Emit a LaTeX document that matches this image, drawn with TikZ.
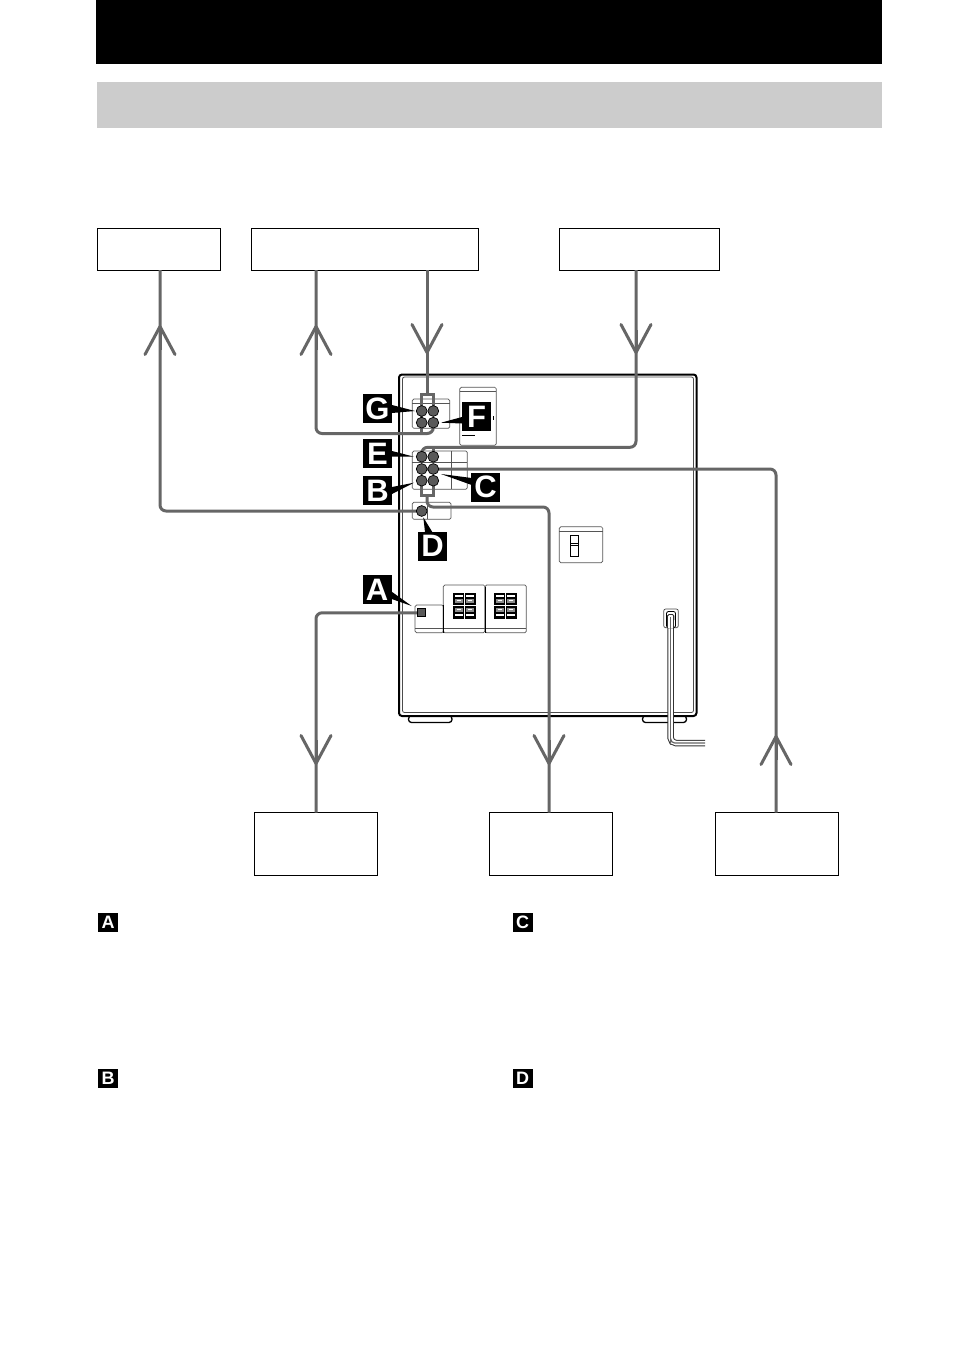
\documentclass[tikz,border=0pt]{standalone}
\usepackage{fontspec}
\setmainfont{Liberation Sans}
\usetikzlibrary{arrows.meta}
\pgfdeclarelayer{fg}
\pgfsetlayers{main,fg}
\definecolor{wirec}{HTML}{666666}
\definecolor{jackc}{HTML}{595959}
\definecolor{panelc}{HTML}{555555}
\tikzset{
  every picture/.style={x=1pt,y=-1pt},
  wire/.style={draw=wirec,line width=3pt,rounded corners=6pt},
  tipw/.style={draw=wirec,line width=3pt,-{Straight Barb[length=28pt,width=30pt,round]}},
  bracket/.style={draw=wirec,line width=3pt},
  destbox/.style={draw=black,line width=1pt,fill=white,inner sep=0pt},
  jack/.style={circle,draw=black,line width=.7pt,fill=jackc,minimum size=10.8pt,inner sep=0pt},
  panel/.style={draw=panelc,line width=.7pt,rounded corners=1.5pt},
  thinline/.style={draw=panelc,line width=.7pt},
  tag/.style={fill=black,text=white,font=\fontsize{31}{31}\selectfont\bfseries,minimum width=29pt,minimum height=29pt,inner sep=0pt},
  smalltag/.style={fill=black,text=white,draw=black,line width=.5pt,font=\fontsize{18}{18}\selectfont\bfseries,minimum width=19pt,minimum height=18pt,inner sep=0pt},
  wedge/.style={fill=black,draw=none},
  foot/.style={draw=black,line width=1.3pt,fill=white,rounded corners=3pt},
}
\begin{document}
\begin{tikzpicture}
\useasboundingbox (0,0) rectangle (954,1352);
\fill[white] (0,0) rectangle (954,1352);
% header bands
\fill[black] (96,0) rectangle (882,64);
\fill[black!20] (97,82) rectangle (882,128);
% destination boxes
\node[destbox,minimum width=123pt,minimum height=42pt] (b1) at (158.5,249) {};
\node[destbox,minimum width=227pt,minimum height=42pt] (b2) at (364.5,249) {};
\node[destbox,minimum width=160pt,minimum height=42pt] (b3) at (639,249) {};
\node[destbox,minimum width=123pt,minimum height=63pt] (b4) at (315.5,844) {};
\node[destbox,minimum width=123pt,minimum height=63pt] (b5) at (551,844) {};
\node[destbox,minimum width=123pt,minimum height=63pt] (b6) at (776.5,844) {};
% feet
\path[foot] (408.5,716) .. controls (420,712) and (440,712) .. (452,716) -- (452,722.5) -- (408.5,722.5) -- cycle;
\path[foot] (642.5,716) .. controls (655,712) and (675,712) .. (686.5,716) -- (686.5,722.5) -- (642.5,722.5) -- cycle;
% cabinet
\draw[black,line width=2pt,fill=white,rounded corners=3pt] (399,374.5) rectangle (696.5,716);
\draw[black!70,line width=.8pt,rounded corners=2pt] (402.5,377) rectangle (693.5,712.5);
% panels
\draw[panel] (412.3,399) rectangle (449.7,428.3);
\draw[thinline] (412.3,403) -- (449.7,403);
\draw[panel] (459.7,387.3) rectangle (496.3,445.3);
\draw[thinline] (459.7,391.7) -- (496.3,391.7);
\draw[black,line width=1pt] (462,435.7) -- (475,435.7);
\draw[black,line width=1pt] (493.5,416) -- (493.5,420);
\draw[panel] (412.3,451) rectangle (467.3,489.3);
\draw[thinline] (412.3,462.7) -- (467.3,462.7);
\draw[thinline] (451,451) -- (451,489.3);
\draw[panel] (412.3,502.3) rectangle (451,519.3);
\draw[thinline] (427.7,502.3) -- (427.7,519.3);
\draw[panel] (415,605) rectangle (443.3,632.7);
\draw[thinline] (415,628) -- (443.3,628);
\draw[panel] (443.3,585) rectangle (485,632.7);
\draw[thinline] (443.3,628) -- (485,628);
\draw[panel] (485,585) rectangle (526.3,632.7);
\draw[thinline] (485,628) -- (526.3,628);
\draw[black,line width=1pt] (443.3,605) -- (443.3,632.7) (485,587) -- (485,632.7);
% speaker terminals
\foreach \tx in {453,494.3}{
  \fill[black] (\tx,593.3) rectangle ++(22.7,25.4);
  \foreach \dx in {2,13}{
    \foreach \dy in {1.5,20.5}{
      \fill[white] (\tx+\dx,593.3+\dy) rectangle ++(7.5,1.8);
    }
    \foreach \dy in {6,14.5}{
      \fill[black!45] (\tx+\dx,593.3+\dy) rectangle ++(7.5,4);
      \fill[white] (\tx+\dx+1.5,593.3+\dy+.8) rectangle ++(4.5,1);
    }
  }
  \fill[white] (\tx,605.2) rectangle ++(22.7,1);
  \fill[white] (\tx+11,593.3) rectangle ++(1,25.4);
}
% voltage selector
\draw[panel] (559.3,526.7) rectangle (602.7,562.7);
\draw[thinline] (559.3,531.3) -- (602.7,531.3);
\draw[black,line width=1pt,fill=white] (570.3,535) rectangle (578.7,556.7);
\draw[black,line width=1pt] (570.3,543.3) -- (578.7,543.3) (570.3,545.7) -- (578.7,545.7);
% power cord
\draw[black!80,line width=6.5pt,rounded corners=5pt] (670.7,615) -- (670.7,743) -- (705,743);
\draw[white,line width=4.5pt,rounded corners=5pt] (670.7,612) -- (670.7,743) -- (706,743);
\draw[black!70,line width=.7pt,rounded corners=2pt] (663.7,609) rectangle (678.3,627.7);
\draw[black,line width=.8pt,rounded corners=2pt] (666.5,611.5) rectangle (675.5,627.7);
\draw[black!80,line width=6.5pt,line cap=butt] (670.7,616) -- (670.7,627.7);
\draw[white,line width=4.5pt] (670.7,615) -- (670.7,628);
\draw[black!80,line width=.9pt,rounded corners=1.5pt] (667.5,620) -- (667.5,614.5) -- (673.9,614.5) -- (673.9,620);
\draw[wirec,line width=1.2pt] (670.7,617) -- (670.7,745);
\draw[wirec,line width=1.2pt,rounded corners=4pt] (670.7,740) -- (670.7,743) -- (705,743);
% jacks and labels on the top layer
\begin{pgfonlayer}{fg}
\node[jack] (g1) at (421.7,411) {};
\node[jack] (g2) at (433.3,411) {};
\node[jack] (f1) at (421.7,422.7) {};
\node[jack] (f2) at (433.3,422.7) {};
\node[jack] (e1) at (421.7,456.7) {};
\node[jack] (e2) at (433.3,456.7) {};
\node[jack] (c1) at (421.7,469) {};
\node[jack] (c2) at (433.3,469) {};
\node[jack] (k1) at (421.7,480.7) {};
\node[jack] (k2) at (433.3,480.7) {};
\node[jack] (dj) at (421.7,511) {};
\node[draw=black,line width=1pt,fill=jackc,minimum size=8pt,inner sep=0pt] (aj) at (421.3,612.8) {};
\fill[wedge] (392,405) -- (415,411) -- (392,413) -- cycle;
\fill[wedge] (462,417) -- (441,422.7) -- (462,423.5) -- cycle;
\fill[wedge] (392,451) -- (414,456.7) -- (392,456.5) -- cycle;
\fill[wedge] (392,487) -- (414,482.7) -- (392,494) -- cycle;
\fill[wedge] (471.7,478) -- (441,474) -- (471.7,485) -- cycle;
\fill[wedge] (425,532) -- (423.3,517.3) -- (432.3,532) -- cycle;
\fill[wedge] (391.7,591.7) -- (411.7,606) -- (391.7,599) -- cycle;
\node[tag] (tA) at (377,589.7) {A};
\node[tag] (tG) at (377.5,408.5) {G};
\node[tag] (tF) at (476.5,416.5) {F};
\node[tag] (tE) at (377.5,453.5) {E};
\node[tag] (tB) at (377.5,490.5) {B};
\node[tag] (tC) at (485.5,487) {C};
\node[tag] (tD) at (432.5,546) {D};
\node[smalltag] (sA) at (108,922) {A};
\node[smalltag] (sB) at (108,1078) {B};
\node[smalltag] (sC) at (522.5,922) {C};
\node[smalltag] (sD) at (522.5,1078) {D};
\end{pgfonlayer}
% attachment points on the boxes
\coordinate (p1) at (160,270);
\coordinate (p2) at (316,270);
\coordinate (p3) at (427,270);
\coordinate (p4) at (636,270);
\coordinate (p5) at (316,812.5);
\coordinate (p6) at (549,812.5);
\coordinate (p7) at (776,812.5);
% apexes of the open arrowheads
\coordinate (h1) at (160,325);
\coordinate (h2) at (316,325);
\coordinate (h3) at (427,354);
\coordinate (h4) at (636,354);
\coordinate (h5) at (316,765);
\coordinate (h6) at (549,765);
\coordinate (h7) at (776,735);
% connectors
\draw[wire] (dj.center) -| (p1);
\draw[tipw] (160,350) -- (h1);
\draw[wire] (f2.center) -- (433.3,433.5) -| (p2);
\draw[bracket] (f1.center) -- (421.7,433.5);
\draw[tipw] (316,350) -- (h2);
\draw[bracket] (p3) -- (427,394);
\draw[tipw] (427,330) -- (h3);
\draw[bracket] (f1.center) -- (421.7,394) -- (433.3,394) -- (g2.center);
\draw[wire] (p4) |- (421.7,447.3) -- (e1.center);
\draw[tipw] (636,330) -- (h4);
\draw[bracket] (433.3,447.3) -- (e2.center);
\draw[wire] (c1.center) -- (c2.center) -| (p7);
\draw[tipw] (776,760) -- (h7);
\draw[bracket] (k1.center) -- (421.7,495.3) -- (433.3,495.3) -- (k2.center);
\draw[wire] (427,495.3) -- (427,507) -| (p6);
\draw[tipw] (549,740) -- (h6);
\draw[wire] (aj.center) -| (p5);
\draw[tipw] (316,740) -- (h5);
\end{tikzpicture}
\end{document}
